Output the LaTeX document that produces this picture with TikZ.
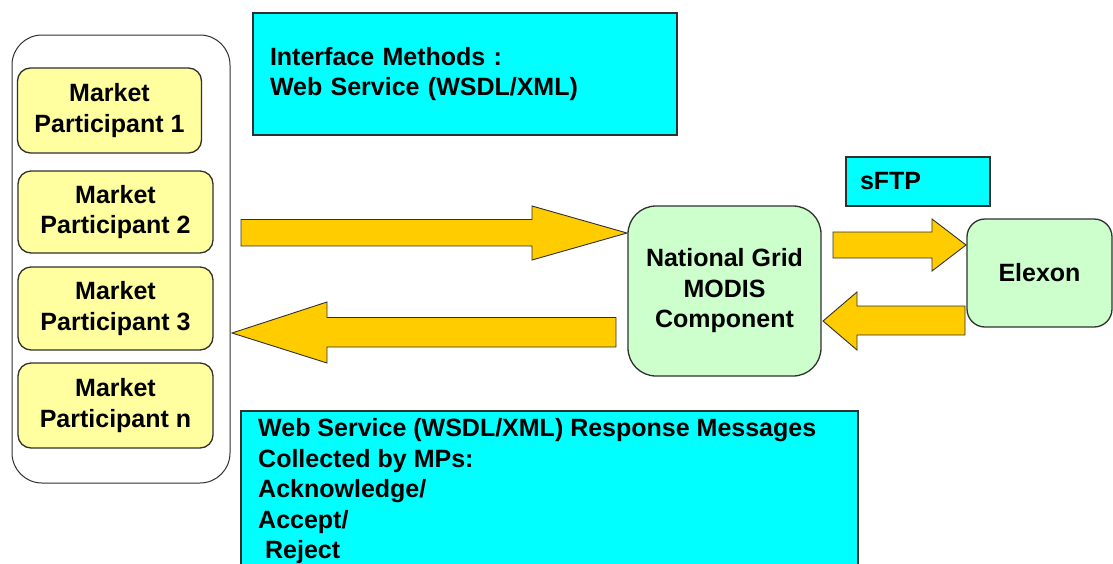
\documentclass[tikz,border=0pt]{standalone}
\usepackage{fontspec}
\setmainfont{Liberation Sans}
\definecolor{mpyellow}{HTML}{FFFF9F}
\definecolor{nggreen}{HTML}{CCFFCC}
\definecolor{boxcyan}{HTML}{00FFFF}
\definecolor{arrowgold}{HTML}{FFCC00}
\definecolor{edgegray}{HTML}{303030}
\begin{document}
\begin{tikzpicture}[x=1pt,y=-1pt,
  lbl/.style={font=\bfseries\fontsize{25}{30.5}\selectfont, text=black},
  container/.style={draw=edgegray, line width=1pt, rounded corners=30pt, fill=white, inner sep=0pt},
  mpbox/.style={lbl, draw=edgegray, line width=1.3pt, fill=mpyellow, rounded corners=13pt, align=center, inner sep=0pt},
  greenbox/.style={lbl, draw=edgegray, line width=1.3pt, fill=nggreen, align=center, inner sep=0pt},
  cyanbox/.style={lbl, draw=edgegray, line width=1.3pt, fill=boxcyan, align=left, inner ysep=0pt},
  blockarrow/.style={draw=edgegray, line width=0.9pt, fill=arrowgold, line join=miter}
]
\useasboundingbox (0,0) rectangle (1113,563);
\clip (0,0) rectangle (1113,563);

% left container with market participants
\node[container, minimum width=218pt, minimum height=448pt] (mps) at (121,259) {};
\node[mpbox, minimum width=184pt, minimum height=85pt] (mp1) at (109.5,110.5) {Market\\Participant 1};
\node[mpbox, minimum width=195pt, minimum height=82pt] (mp2) at (115.5,212) {Market\\Participant 2};
\node[mpbox, minimum width=195pt, minimum height=83pt] (mp3) at (115.5,308.5) {Market\\Participant 3};
\node[mpbox, minimum width=195pt, minimum height=85pt] (mpn) at (115.5,405.5) {Market\\Participant n};

% interface methods box
\node[cyanbox, inner xsep=17pt, text width=390pt, minimum height=122pt] (iface) at (465,74)
  {Interface Methods :\\Web Service (WSDL/XML)};

% National Grid MODIS component
\node[greenbox, rounded corners=28pt, minimum width=193pt, minimum height=170pt] (ng) at (724.5,291)
  {National Grid\\MODIS\\Component};

% sFTP label box
\node[cyanbox, inner xsep=14pt, text width=116pt, minimum height=49pt] (sftp) at (918,181.5) {sFTP};

% Elexon
\node[greenbox, rounded corners=18pt, minimum width=145pt, minimum height=108pt] (elexon) at (1039.5,273) {Elexon};

% bottom response messages box
\node[draw=edgegray, line width=1.3pt, fill=boxcyan, minimum width=617pt, minimum height=200pt, inner sep=0pt] (resp) at (549.5,511) {};
\node[lbl, align=left, anchor=north west, inner sep=0pt] (resptext) at (258,418.5)
  {Web Service (WSDL/XML) Response Messages\\Collected by MPs:\\Acknowledge/\\Accept/\\\ Reject};

% block arrows
\draw[blockarrow] (241,219.5) -- (532,219.5) -- (532,206) -- (627,233) -- (532,260) -- (532,246) -- (241,246) -- cycle;
\draw[blockarrow] (616,317.5) -- (327,317.5) -- (327,302) -- (232,333) -- (327,363) -- (327,347) -- (616,347) -- cycle;
\draw[blockarrow] (833,232) -- (932,232) -- (932,219) -- (966,245) -- (932,271) -- (932,258) -- (833,258) -- cycle;
\draw[blockarrow] (965,306) -- (857,306) -- (857,292) -- (823,321) -- (857,350) -- (857,335) -- (965,335) -- cycle;
\end{tikzpicture}
\end{document}
